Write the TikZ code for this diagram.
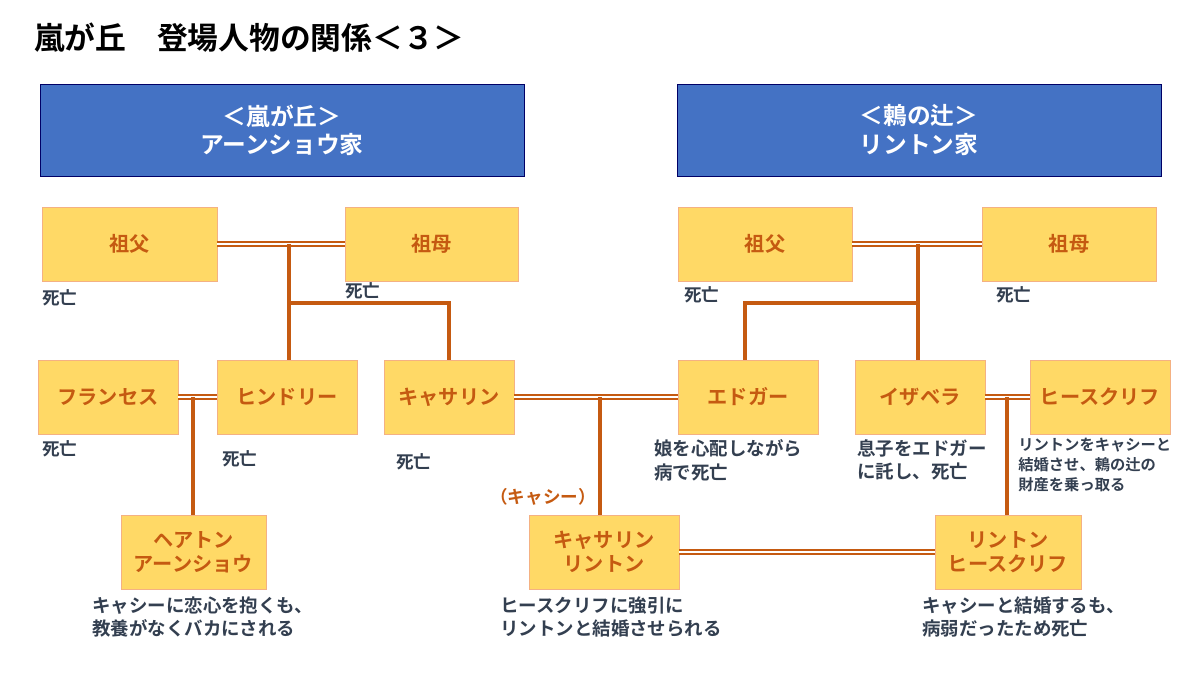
\documentclass[tikz,border=0pt]{standalone}
\usepackage{fontspec}
\setmainfont{Noto Sans CJK JP}[BoldFont={* Bold}]
\begin{document}
\begin{tikzpicture}[x=0.02cm,y=-0.02cm,
 hdr/.style={draw=blue!40!black,fill=hblue,text=white,font=\bfseries\fontsize{13.5}{16}\selectfont,align=center,minimum width=484*0.02cm,minimum height=92*0.02cm,inner sep=0pt},
 box/.style={draw=bord,fill=byellow,text=brn,font=\bfseries\fontsize{11.5}{13.5}\selectfont,align=center,inner sep=0pt,minimum height=74*0.02cm},
 lbl/.style={text=navy,font=\bfseries\fontsize{10}{12}\selectfont,align=left,anchor=north west,inner sep=0pt},
 rel/.style={draw=brn,line width=0.9pt,double=white,double distance=1.5pt},
 ln/.style={draw=brn,line width=2pt}]
\definecolor{hblue}{HTML}{4472C4}\definecolor{byellow}{HTML}{FFD966}
\definecolor{bord}{HTML}{F4B183}\definecolor{brn}{HTML}{C55A11}\definecolor{navy}{HTML}{333F50}
\useasboundingbox (0,0) rectangle (1200,675);
\node[anchor=west,font=\bfseries\fontsize{17.5}{20}\selectfont] (title) at (28,38) {嵐が丘　登場人物の関係＜３＞};
\node[hdr] (h1) at (282,130) {＜嵐が丘＞\\アーンショウ家};
\node[hdr] (h2) at (919,130) {＜鶫の辻＞\\リントン家};
\node[box,minimum width=175*0.02cm] (gfL) at (129.5,244) {祖父};
\node[box,minimum width=173*0.02cm] (gmL) at (431.5,244) {祖母};
\node[box,minimum width=174*0.02cm] (gfR) at (765,244) {祖父};
\node[box,minimum width=174*0.02cm] (gmR) at (1069,244) {祖母};
\node[box,minimum width=140*0.02cm] (fr) at (108,397) {フランセス};
\node[box,minimum width=140*0.02cm] (hi) at (287,397) {ヒンドリー};
\node[box,minimum width=130*0.02cm] (ca) at (449,397) {キャサリン};
\node[box,minimum width=140*0.02cm] (ed) at (748,397) {エドガー};
\node[box,minimum width=130*0.02cm] (is) at (920,397) {イザベラ};
\node[box,minimum width=140*0.02cm] (he) at (1100,397) {ヒースクリフ};
\node[box,minimum width=145*0.02cm] (ha) at (193.5,552) {ヘアトン\\アーンショウ};
\node[box,minimum width=150*0.02cm] (cl) at (604,552) {キャサリン\\リントン};
\node[box,minimum width=146*0.02cm] (lh) at (1008,552) {リントン\\ヒースクリフ};
\coordinate (jL) at (289,244);\coordinate (jL2) at (289,303);\coordinate (jL3) at (449,303);
\coordinate (jR) at (918,244);\coordinate (jR2) at (918,303);\coordinate (jR3) at (745,303);
\coordinate (jF) at (193,397);\coordinate (jC) at (600,397);\coordinate (jI) at (1007,397);
\draw[rel] (gfL) -- (gmL);\draw[rel] (gfR) -- (gmR);
\draw[rel] (fr) -- (hi);\draw[rel] (ca) -- (ed);\draw[rel] (is) -- (he);\draw[rel] (cl) -- (lh);
\draw[ln] (jL) -- (jL2) -- (hi.north-|jL2);\draw[ln] (jL2) -- (jL3) -- (ca.north);
\draw[ln] (jR) -- (is.north-|jR);\draw[ln] (jR2) -- (jR3) -- (ed.north-|jR3);
\draw[ln] (jF) -- (ha.north-|jF);\draw[ln] (jC) -- (cl.north-|jC);\draw[ln] (jI) -- (lh.north-|jI);
\node[lbl] (d1) at (42,289) {死亡};
\node[lbl] (d2) at (345,282) {死亡};
\node[lbl] (d3) at (684,286) {死亡};
\node[lbl] (d4) at (996,286) {死亡};
\node[lbl] (d5) at (42,440) {死亡};
\node[lbl] (d6) at (222,450) {死亡};
\node[lbl] (d7) at (396,453) {死亡};
\node[lbl,font=\bfseries\fontsize{10.5}{13.5}\selectfont] (t1) at (654,439) {娘を心配しながら\\病で死亡};
\node[lbl,font=\bfseries\fontsize{10.5}{13.5}\selectfont] (t2) at (857,439) {息子をエドガー\\に託し、死亡};
\node[lbl,font=\bfseries\fontsize{8.7}{11.2}\selectfont] (t3) at (1018,438) {リントンをキャシーと\\結婚させ、鶫の辻の\\財産を乗っ取る};
\node[lbl,text=brn] (ky) at (490,488) {（キャシー）};
\node[lbl,font=\bfseries\fontsize{10.5}{13.5}\selectfont] (b1) at (92,596) {キャシーに恋心を抱くも、\\教養がなくバカにされる};
\node[lbl,font=\bfseries\fontsize{10.5}{13.5}\selectfont] (b2) at (500,596) {ヒースクリフに強引に\\リントンと結婚させられる};
\node[lbl,font=\bfseries\fontsize{10.5}{13.5}\selectfont] (b3) at (922,596) {キャシーと結婚するも、\\病弱だったため死亡};
\end{tikzpicture}
\end{document}
